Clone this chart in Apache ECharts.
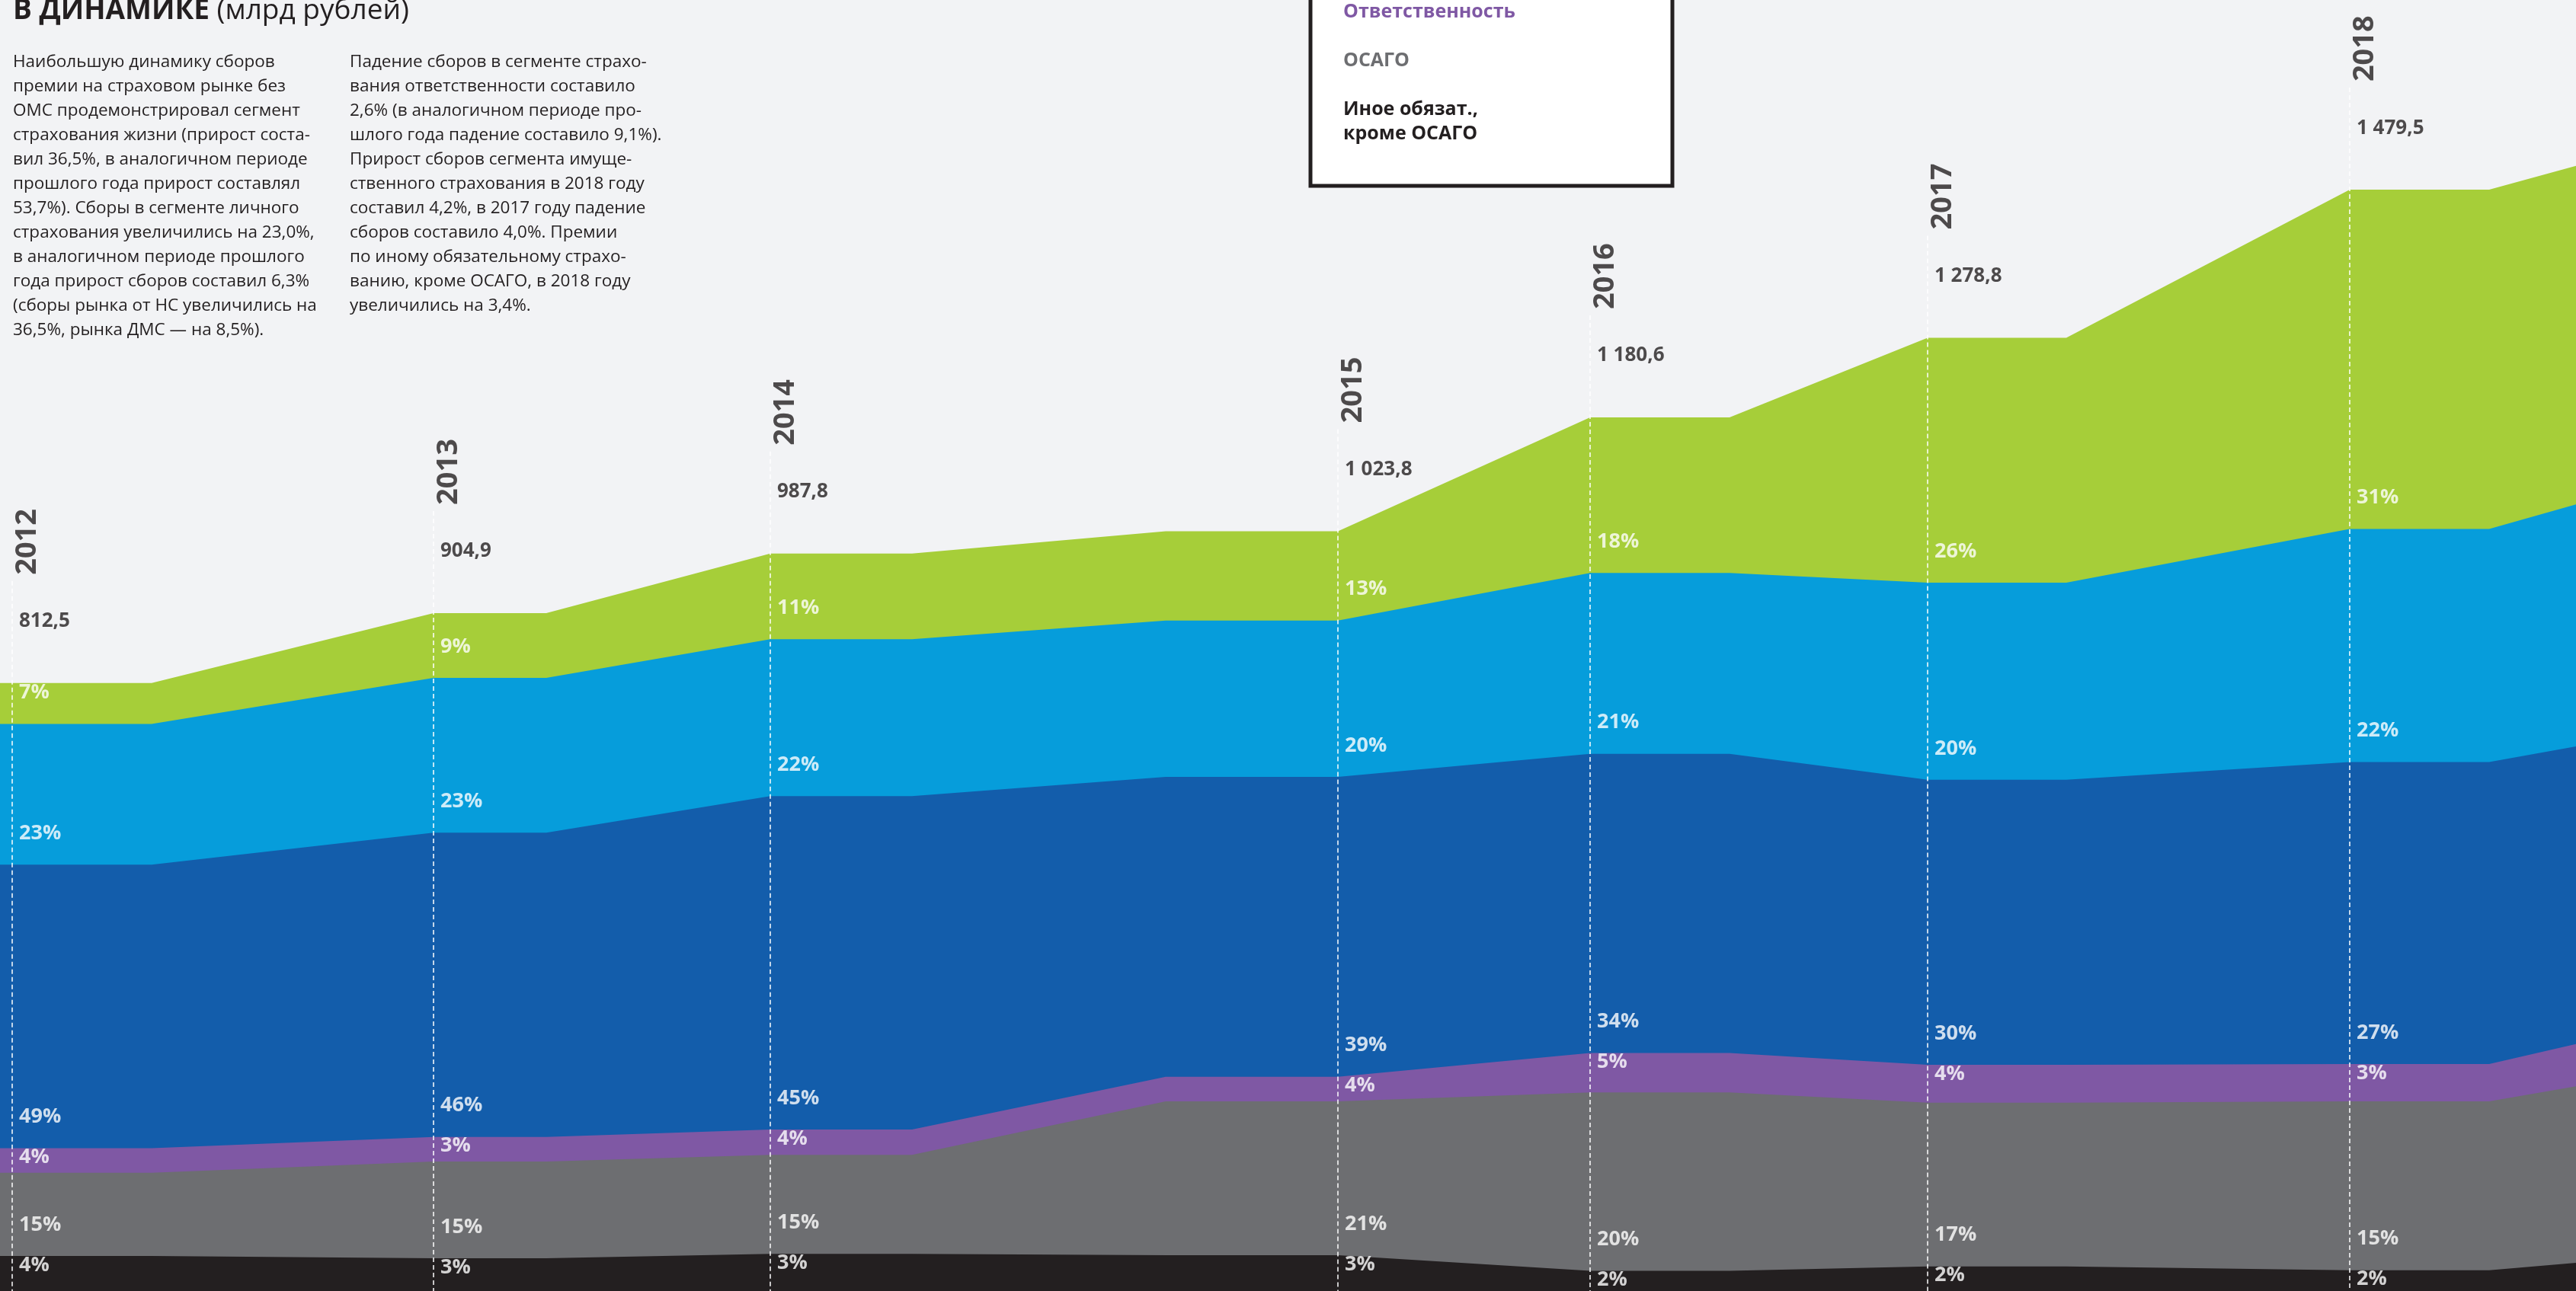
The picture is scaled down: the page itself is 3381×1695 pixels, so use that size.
<!DOCTYPE html>
<html>
<head>
<meta charset="utf-8">
<title>Сборы в динамике</title>
<script src="https://cdn.jsdelivr.net/npm/echarts@6/dist/echarts.min.js"></script>
<style>
  html, body { margin: 0; padding: 0; background: #f2f3f5; }
  #chart { width: 3381px; height: 1695px; }
</style>
</head>
<body>
<div id="chart"></div>
<script>
// годы и сборы рынка всего (млрд руб.)
var years = ['2012', '2013', '2014', '2015', '2016', '2017', '2018'];
var totals = ['812,5', '904,9', '987,8', '1 023,8', '1 180,6', '1 278,8', '1 479,5'];

// 8-е значение - там, где полоса уходит за правый край
var life = [55, 87, 115, 120, 209, 329, 456, 455];
var personal = [189, 208, 211, 210, 243, 265, 313, 325];
var property = [381, 409, 448, 403, 402, 383, 406, 400];
var liability = [33, 33, 34, 33, 53, 51, 50, 57];
var osago = [112, 130, 133, 207, 240, 220, 227, 237];
var otherMandatory = [47, 44, 50, 48, 27, 33, 28, 38];

// доли, подписанные в полосах
var lifeShare = ['7%', '9%', '11%', '13%', '18%', '26%', '31%'];
var personalShare = ['23%', '23%', '22%', '20%', '21%', '20%', '22%'];
var propertyShare = ['49%', '46%', '45%', '39%', '34%', '30%', '27%'];
var liabilityShare = ['4%', '3%', '4%', '4%', '5%', '4%', '3%'];
var osagoShare = ['15%', '15%', '15%', '21%', '20%', '17%', '15%'];
var otherShare = ['4%', '3%', '3%', '3%', '2%', '2%', '2%'];

// раскладка по оси x (в инфографике годы стоят неравномерно)
var yearLine = [16, 569, 1011, 1756, 2087, 2530, 3084];
var plateauFrom = [0, 569, 1011, 1530, 2087, 2530, 3084];
var plateauTo = [199, 717, 1197, 1756, 2270, 2712, 3267];
var xEnd = 3381;

var W = 3381, H = 1695, yMax = 1735;
var yPerPx = yMax / H;
var font = 'Open Sans';
var ink = '#231f20';

var chart = echarts.init(document.getElementById('chart'));

// снизу вверх
var bands = [
  { name: 'Иное обязат., кроме ОСАГО', data: otherMandatory, share: otherShare, color: '#231f20' },
  { name: 'ОСАГО', data: osago, share: osagoShare, color: '#6d6e71' },
  { name: 'Ответственность', data: liability, share: liabilityShare, color: '#7f58a4' },
  { name: 'Имущество', data: property, share: propertyShare, color: '#135dab' },
  { name: 'Личное страхование', data: personal, share: personalShare, color: '#069ddb' },
  { name: 'Страхование жизни', data: life, share: lifeShare, color: '#a6ce39' }
];

// накопленные суммы: каждая полоса рисуется от нуля до своей верхней границы,
// верхние полосы идут первыми, нижние ложатся поверх
var cum = [];
var running = life.map(function() { return 0; });
bands.forEach(function(b) {
  running = running.map(function(v, i) { return v + b.data[i]; });
  cum.push(running.slice());
});

function bandPoints(vals) {
  var pts = [];
  for (var i = 0; i < years.length; i++) {
    pts.push([plateauFrom[i], vals[i]]);
    pts.push([plateauTo[i], vals[i]]);
  }
  pts.push([xEnd, vals[years.length]]);
  return pts;
}

var areaSeries = bands.map(function(b, k) {
  return {
    name: b.name,
    type: 'line',
    symbol: 'none',
    silent: true,
    z: 2,
    lineStyle: { width: 0 },
    itemStyle: { color: b.color },
    areaStyle: { color: b.color, opacity: 1, origin: 'start' },
    data: bandPoints(cum[k])
  };
}).reverse();

// подписи долей: у тонких полос - у верхнего края, у толстых - над нижним
var shareLabels = [];
var tops = [];
for (var i = 0; i < years.length; i++) {
  var lower = 0;
  bands.forEach(function(b) {
    var upper = lower + b.data[i];
    var y = b.data[i] < 60 * yPerPx ? upper - 12 * yPerPx : lower + 41 * yPerPx;
    shareLabels.push({ value: [yearLine[i], y], text: b.share[i] });
    lower = upper;
  });
  tops.push(lower);
}

var option = {
  backgroundColor: '#f2f3f5',
  animation: false,
  grid: { left: 0, right: 0, top: 0, bottom: 0 },
  xAxis: { type: 'value', min: 0, max: W, show: false },
  yAxis: { type: 'value', min: 0, max: yMax, show: false },
  title: [
    {
      text: '{b|В ДИНАМИКЕ}{r| (млрд рублей)}',
      left: 17,
      top: -7,
      padding: 0,
      textStyle: {
        rich: {
          b: { fontFamily: font, fontWeight: 'bold', fontSize: 37, color: ink, lineHeight: 42 },
          r: { fontFamily: font, fontWeight: 'normal', fontSize: 37, color: ink, lineHeight: 42 }
        }
      }
    },
    {
      text: 'Наибольшую динамику сборов\nпремии на страховом рынке без\nОМС продемонстрировал сегмент\nстрахования жизни (прирост соста-\nвил 36,5%, в аналогичном периоде\nпрошлого года прирост составлял\n53,7%). Сборы в сегменте личного\nстрахования увеличились на 23,0%,\nв аналогичном периоде прошлого\nгода прирост сборов составил 6,3%\n(сборы рынка от НС увеличились на\n36,5%, рынка ДМС — на 8,5%).',
      left: 17,
      top: 66,
      padding: 0,
      textStyle: { fontFamily: font, fontWeight: 'normal', fontSize: 22.5, lineHeight: 32, color: ink }
    },
    {
      text: 'Падение сборов в сегменте страхо-\nвания ответственности составило\n2,6% (в аналогичном периоде про-\nшлого года падение составило 9,1%).\nПрирост сборов сегмента имуще-\nственного страхования в 2018 году\nсоставил 4,2%, в 2017 году падение\nсборов составило 4,0%. Премии\nпо иному обязательному страхо-\nванию, кроме ОСАГО, в 2018 году\nувеличились на 3,4%.',
      left: 459,
      top: 66,
      padding: 0,
      textStyle: { fontFamily: font, fontWeight: 'normal', fontSize: 22.5, lineHeight: 32, color: ink }
    }
  ],
  graphic: [
    {
      type: 'rect',
      z: 100,
      silent: true,
      shape: { x: 1720, y: -200, width: 475, height: 444 },
      style: { fill: '#ffffff', stroke: ink, lineWidth: 5 }
    }
  ],
  legend: {
    orient: 'vertical',
    left: 1758,
    top: -192,
    z: 200,
    icon: 'none',
    itemWidth: 0,
    itemHeight: 32,
    itemGap: 32,
    selectedMode: false,
    padding: 0,
    formatter: function(name) { return name.replace(', ', ',\n'); },
    textStyle: { fontFamily: font, fontWeight: 'bold', fontSize: 25, lineHeight: 32 },
    data: bands.slice().reverse().map(function(b) {
      return { name: b.name, textStyle: { color: b.color } };
    })
  },
  series: areaSeries.concat([
    {
      name: 'shares',
      type: 'scatter',
      symbolSize: 0,
      silent: true,
      z: 10,
      data: shareLabels,
      label: {
        show: true,
        position: 'inside',
        align: 'left',
        verticalAlign: 'middle',
        offset: [9, 0],
        fontFamily: font,
        fontWeight: 'bold',
        fontSize: 27,
        color: '#ffffff',
        formatter: function(p) { return p.data.text; }
      }
    },
    {
      name: 'totals',
      type: 'scatter',
      symbolSize: 0,
      silent: true,
      z: 10,
      data: years.map(function(y, i) { return { value: [yearLine[i], tops[i]], text: totals[i] }; }),
      label: {
        show: true,
        position: 'inside',
        align: 'left',
        verticalAlign: 'middle',
        offset: [9, -81],
        fontFamily: font,
        fontWeight: 'bold',
        fontSize: 26,
        color: ink,
        formatter: function(p) { return p.data.text; }
      },
      markLine: {
        silent: true,
        symbol: ['none', 'none'],
        label: { show: false },
        lineStyle: { color: '#ffffff', type: [6, 4], width: 1.5, opacity: 1 },
        data: years.map(function(y, i) {
          return [
            { coord: [yearLine[i], tops[i] + 134 * yPerPx] },
            { coord: [yearLine[i], 0] }
          ];
        })
      }
    },
    {
      name: 'years',
      type: 'scatter',
      symbolSize: 0,
      silent: true,
      z: 10,
      data: years.map(function(y, i) { return { value: [yearLine[i] + 20, tops[i] + 142 * yPerPx], text: y }; }),
      label: {
        show: true,
        position: 'inside',
        rotate: 90,
        align: 'left',
        verticalAlign: 'middle',
        fontFamily: font,
        fontWeight: 'bold',
        fontSize: 38,
        color: ink,
        formatter: function(p) { return p.data.text; }
      }
    }
  ])
};

chart.setOption(option);
window.addEventListener('resize', function() { chart.resize(); });
</script>
</body>
</html>
